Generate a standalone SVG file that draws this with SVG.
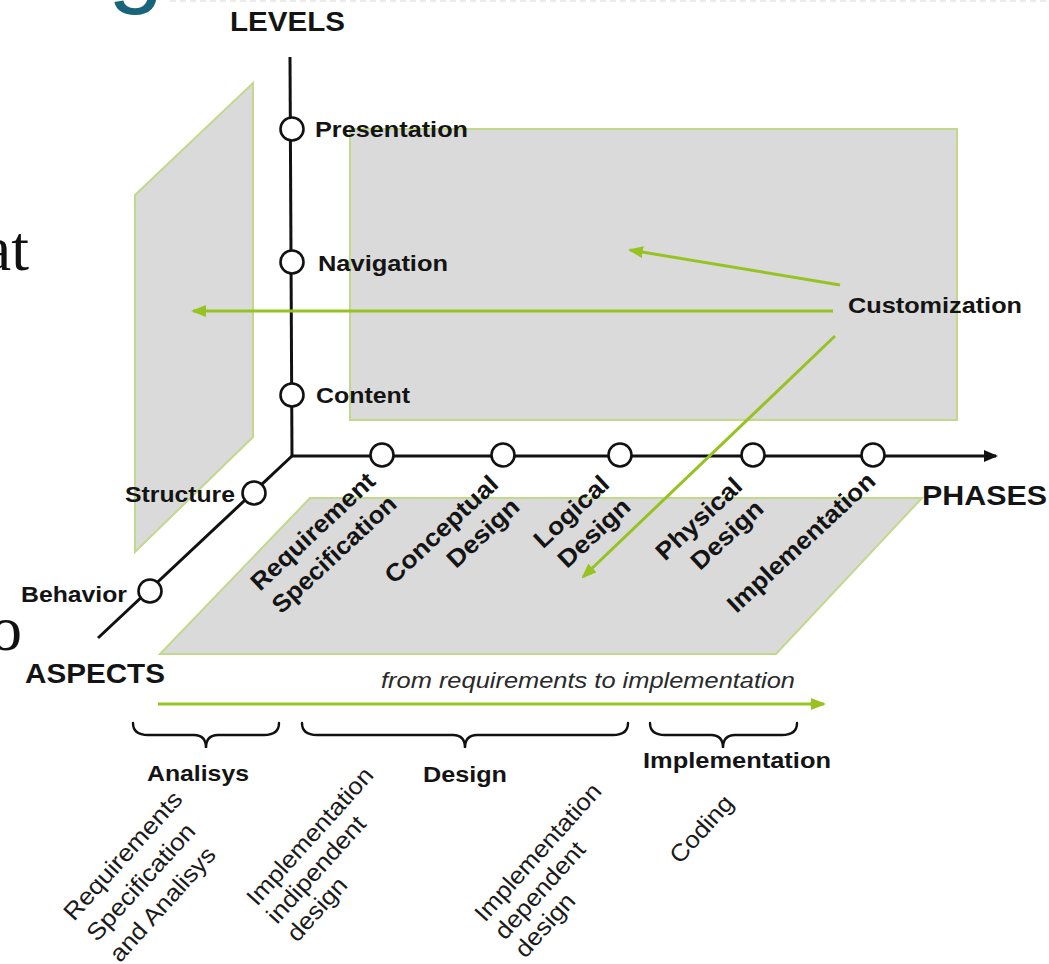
<svg xmlns="http://www.w3.org/2000/svg" width="1049" height="964" viewBox="0 0 1049 964">
<style>
.b{font-family:"Liberation Sans",Arial,Helvetica,sans-serif;font-weight:bold;fill:#141414}
.r{font-family:"Liberation Sans",Arial,Helvetica,sans-serif;fill:#1a1a1a}
.panel{fill:#dadada;stroke:#c2d88a;stroke-width:2}
.axis{fill:none;stroke:#111;stroke-width:3}
.node{fill:#fff;stroke:#111;stroke-width:2.6}
.garrow{fill:none;stroke:#96c322;stroke-width:3}
.brace{fill:none;stroke:#111;stroke-width:2.4;stroke-linecap:round}
.serif{font-family:"Liberation Serif","Times New Roman",serif;fill:#111}
</style>
<defs>
<marker id="ga" markerWidth="15" markerHeight="12" refX="13" refY="6" orient="auto" markerUnits="userSpaceOnUse"><path d="M0,0 L15,6 L0,12 z" fill="#96c322"/></marker>
<marker id="ba" markerWidth="14" markerHeight="12" refX="12" refY="6" orient="auto" markerUnits="userSpaceOnUse"><path d="M0,0 L14,6 L0,12 z" fill="#111"/></marker>
</defs>
<rect width="1049" height="964" fill="#fff"/>
<line x1="170" y1="1" x2="1049" y2="1" stroke="#ececec" stroke-width="2" stroke-dasharray="6 4"/>
<text x="108" y="-6" font-size="100" style="font-family:'Liberation Sans',Arial,sans-serif;fill:#17647c">g</text>
<text class="serif" x="29" y="270" font-size="64" text-anchor="end">at</text>
<text class="serif" x="22" y="650" font-size="64" text-anchor="end">o</text>

<g id="planes">
<polygon id="plane-left" class="panel" points="135,195 253,83 253,437 135,552"/>
<rect id="plane-back" class="panel" x="350" y="129" width="607" height="291"/>
<polygon id="plane-bottom" class="panel" points="310,498 922,498 776,654 160,654"/>
</g>

<g id="axes">
<line class="axis" x1="290" y1="57" x2="292" y2="456"/>
<line class="axis" x1="292" y1="456" x2="996" y2="456" marker-end="url(#ba)"/>
<line class="axis" x1="292" y1="456" x2="98" y2="638"/>
</g>

<g id="connectors">
<line class="garrow" x1="833" y1="311" x2="193" y2="311" marker-end="url(#ga)"/>
<line class="garrow" x1="840" y1="285" x2="630" y2="250" marker-end="url(#ga)"/>
<line class="garrow" x1="835" y1="336" x2="583" y2="577" marker-end="url(#ga)"/>
<line class="garrow" x1="158" y1="704" x2="824" y2="704" marker-end="url(#ga)"/>
</g>

<g id="level-presentation"><circle class="node" cx="292" cy="129" r="11.5"/><text class="b" x="315" y="137" font-size="22" textLength="153" lengthAdjust="spacingAndGlyphs">Presentation</text></g>
<g id="level-navigation"><circle class="node" cx="292" cy="262" r="11.5"/><text class="b" x="318" y="271" font-size="22" textLength="130" lengthAdjust="spacingAndGlyphs">Navigation</text></g>
<g id="level-content"><circle class="node" cx="292" cy="395" r="11.5"/><text class="b" x="316" y="403" font-size="22" textLength="94" lengthAdjust="spacingAndGlyphs">Content</text></g>

<g id="aspect-structure"><circle class="node" cx="254" cy="493" r="11.5"/><text class="b" x="125" y="502" font-size="22" textLength="110" lengthAdjust="spacingAndGlyphs">Structure</text></g>
<g id="aspect-behavior"><circle class="node" cx="150" cy="591" r="11.5"/><text class="b" x="21" y="602" font-size="22" textLength="106" lengthAdjust="spacingAndGlyphs">Behavior</text></g>

<g id="phase-requirement"><circle class="node" cx="382" cy="455" r="11.5"/>
<g transform="translate(377,483) rotate(-43)"><text class="b" font-size="24.5" text-anchor="end" textLength="160" lengthAdjust="spacingAndGlyphs">Requirement</text><text class="b" y="31" font-size="24.5" text-anchor="end" textLength="160" lengthAdjust="spacingAndGlyphs">Specification</text></g></g>
<g id="phase-conceptual"><circle class="node" cx="503" cy="455" r="11.5"/>
<g transform="translate(500,486) rotate(-43)"><text class="b" font-size="24.5" text-anchor="end" textLength="145" lengthAdjust="spacingAndGlyphs">Conceptual</text><text class="b" y="31" font-size="24.5" text-anchor="end" textLength="89" lengthAdjust="spacingAndGlyphs">Design</text></g></g>
<g id="phase-logical"><circle class="node" cx="620" cy="455" r="11.5"/>
<g transform="translate(611,486) rotate(-43)"><text class="b" font-size="24.5" text-anchor="end" textLength="93" lengthAdjust="spacingAndGlyphs">Logical</text><text class="b" y="31" font-size="24.5" text-anchor="end" textLength="89" lengthAdjust="spacingAndGlyphs">Design</text></g></g>
<g id="phase-physical"><circle class="node" cx="753" cy="455" r="11.5"/>
<g transform="translate(744,488) rotate(-43)"><text class="b" font-size="24.5" text-anchor="end" textLength="108" lengthAdjust="spacingAndGlyphs">Physical</text><text class="b" y="31" font-size="24.5" text-anchor="end" textLength="89" lengthAdjust="spacingAndGlyphs">Design</text></g></g>
<g id="phase-implementation"><circle class="node" cx="873" cy="455" r="11.5"/>
<g transform="translate(877,483) rotate(-43)"><text class="b" font-size="24.5" text-anchor="end" textLength="192" lengthAdjust="spacingAndGlyphs">Implementation</text></g></g>

<g id="axis-labels">
<text class="b" x="230" y="31" font-size="28" textLength="115" lengthAdjust="spacingAndGlyphs">LEVELS</text>
<text class="b" x="922" y="505" font-size="28" textLength="125" lengthAdjust="spacingAndGlyphs">PHASES</text>
<text class="b" x="25" y="683" font-size="28" textLength="140" lengthAdjust="spacingAndGlyphs">ASPECTS</text>
</g>

<g id="customization"><text class="b" x="848" y="313" font-size="22" textLength="174" lengthAdjust="spacingAndGlyphs">Customization</text></g>

<g id="flow-label"><text class="r" x="381" y="688" font-size="22" font-style="italic" textLength="414" lengthAdjust="spacingAndGlyphs" style="fill:#2a2a2a">from requirements to implementation</text></g>

<g id="stage-analisys">
<path class="brace" d="M133,723 Q133,735 148,735 L194,735 Q206,735 206,748 Q206,735 218,735 L264,735 Q279,735 279,723"/>
<text class="b" x="147" y="781" font-size="22" textLength="102" lengthAdjust="spacingAndGlyphs">Analisys</text>
<g transform="translate(74,922) rotate(-48)"><text class="r" font-size="24" textLength="164" lengthAdjust="spacingAndGlyphs">Requirements</text><text class="r" y="31" font-size="24" textLength="149" lengthAdjust="spacingAndGlyphs">Specification</text><text class="r" y="62" font-size="24" textLength="145" lengthAdjust="spacingAndGlyphs">and Analisys</text></g>
</g>

<g id="stage-design">
<path class="brace" d="M302,723 Q302,735 317,735 L453,735 Q465,735 465,748 Q465,735 477,735 L613,735 Q628,735 628,723"/>
<text class="b" x="423" y="782" font-size="22" textLength="84" lengthAdjust="spacingAndGlyphs">Design</text>
<g transform="translate(257,907) rotate(-48)"><text class="r" font-size="24" textLength="176" lengthAdjust="spacingAndGlyphs">Implementation</text><text class="r" y="27" font-size="24" textLength="135" lengthAdjust="spacingAndGlyphs">indipendent</text><text class="r" y="54" font-size="24" textLength="77" lengthAdjust="spacingAndGlyphs">design</text></g>
<g transform="translate(485,923) rotate(-48)"><text class="r" font-size="24" textLength="176" lengthAdjust="spacingAndGlyphs">Implementation</text><text class="r" y="27" font-size="24" textLength="122" lengthAdjust="spacingAndGlyphs">dependent</text><text class="r" y="54" font-size="24" textLength="77" lengthAdjust="spacingAndGlyphs">design</text></g>
</g>

<g id="stage-implementation">
<path class="brace" d="M650,723 Q650,735 665,735 L711,735 Q723,735 723,748 Q723,735 735,735 L782,735 Q797,735 797,723"/>
<text class="b" x="643" y="768" font-size="22" textLength="188" lengthAdjust="spacingAndGlyphs">Implementation</text>
<g transform="translate(680,865) rotate(-48)"><text class="r" font-size="24" textLength="82" lengthAdjust="spacingAndGlyphs">Coding</text></g>
</g>
</svg>
